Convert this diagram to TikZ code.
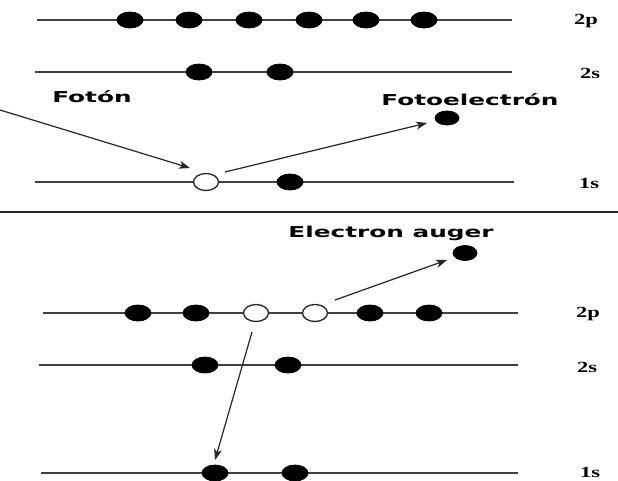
\documentclass[tikz,border=0pt]{standalone}
\usepackage{fontspec}
\usepackage{graphicx}
\usetikzlibrary{shapes.geometric,arrows.meta}
\newfontfamily\labsans{DejaVu Sans}[BoldFont={DejaVu Sans Bold}]
\newfontfamily\labserif{Liberation Serif}
\begin{document}
\begin{tikzpicture}[x=1pt,y=-1pt,
  level/.style={draw=black!75,line width=1.4pt},
  edot/.style={ellipse,fill=black,draw=black,line width=0.8pt,minimum width=26pt,minimum height=16pt,inner sep=0pt},
  hole/.style={ellipse,fill=white,draw=black!85,line width=1.3pt,minimum width=25pt,minimum height=17pt,inner sep=0pt},
  orb/.style={inner sep=0pt,font=\labserif\fontsize{15.5}{15.5}\selectfont\bfseries},
  tag/.style={inner sep=0pt,font=\labsans\fontsize{15}{15}\selectfont\bfseries},
  arr/.style={draw=black!85,line width=1.2pt,-{Stealth[length=11pt,width=8pt,inset=3pt]}}
]
\useasboundingbox (0,0) rectangle (618,480);
\fill[white] (0,0) rectangle (618,480);
% ---------- top panel ----------
\coordinate (t2pL) at (37,20);  \coordinate (t2pR) at (512,20);
\coordinate (t2sL) at (35,72);  \coordinate (t2sR) at (512,72);
\coordinate (t1sL) at (35,182); \coordinate (t1sR) at (514,182);
\draw[level] (t2pL) -- (t2pR);
\draw[level] (t2sL) -- (t2sR);
\draw[level] (t1sL) -- (t1sR);
\foreach \x [count=\i] in {130,189,249,309,366,424} \node[edot] (tp\i) at (\x,20) {};
\node[edot] (ts1) at (199,72) {};
\node[edot] (ts2) at (280,72) {};
\node[hole] (tk1) at (206,182) {};
\node[edot] (tk2) at (290,182) {};
\node[edot,minimum width=24pt,minimum height=14pt] (pe) at (447,118) {};
\node[orb] (l2p) at (586,21) {\scalebox{1.45}[1]{2p}};
\node[orb] (l2s) at (590,73) {\scalebox{1.45}[1]{2s}};
\node[orb] (l1s) at (589,183) {\scalebox{1.45}[1]{1s}};
\node[tag] (foton) at (92,97) {\scalebox{1.65}[1]{Fotón}};
\node[tag] (fotoe) at (470,100) {\scalebox{1.65}[1]{Fotoelectrón}};
\coordinate (ph0) at (0,110);
\coordinate (ph1) at (190,168);
\coordinate (pe0) at (225,172);
\coordinate (pe1) at (427,123);
\draw[arr] (ph0) -- (ph1);
\draw[arr] (pe0) -- (pe1);
% divider
\coordinate (dvL) at (0,212); \coordinate (dvR) at (618,212);
\draw[black!85,line width=2.4pt] (dvL) -- (dvR);
% ---------- bottom panel ----------
\coordinate (b2pL) at (43,313);  \coordinate (b2pR) at (518,313);
\coordinate (b2sL) at (39,365);  \coordinate (b2sR) at (518,365);
\coordinate (b1sL) at (41,473);  \coordinate (b1sR) at (518,473);
\draw[level] (b2pL) -- (b2pR);
\draw[level] (b2sL) -- (b2sR);
\draw[level] (b1sL) -- (b1sR);
\node[edot] (bp1) at (138,313) {};
\node[edot] (bp2) at (196,313) {};
\node[hole] (bp3) at (256,313) {};
\node[hole] (bp4) at (315,313) {};
\node[edot] (bp5) at (370,313) {};
\node[edot] (bp6) at (429,313) {};
\node[edot] (bs1) at (205,365) {};
\node[edot] (bs2) at (288,365) {};
\node[edot] (bk1) at (215,473) {};
\node[edot] (bk2) at (295,473) {};
\node[edot,minimum width=24pt,minimum height=15pt] (ae) at (465,253) {};
\node[orb] (m2p) at (588,314) {\scalebox{1.45}[1]{2p}};
\node[orb] (m2s) at (587,367) {\scalebox{1.45}[1]{2s}};
\node[orb] (m1s) at (590,472) {\scalebox{1.45}[1]{1s}};
\node[tag] (auger) at (391,233) {\scalebox{1.65}[1]{Electron auger}};
\coordinate (au0) at (335,300);
\coordinate (au1) at (447,260);
\coordinate (dn0) at (252,332);
\coordinate (dn1) at (215,460);
\draw[arr] (au0) -- (au1);
\draw[arr] (dn0) -- (dn1);
\end{tikzpicture}
\end{document}
